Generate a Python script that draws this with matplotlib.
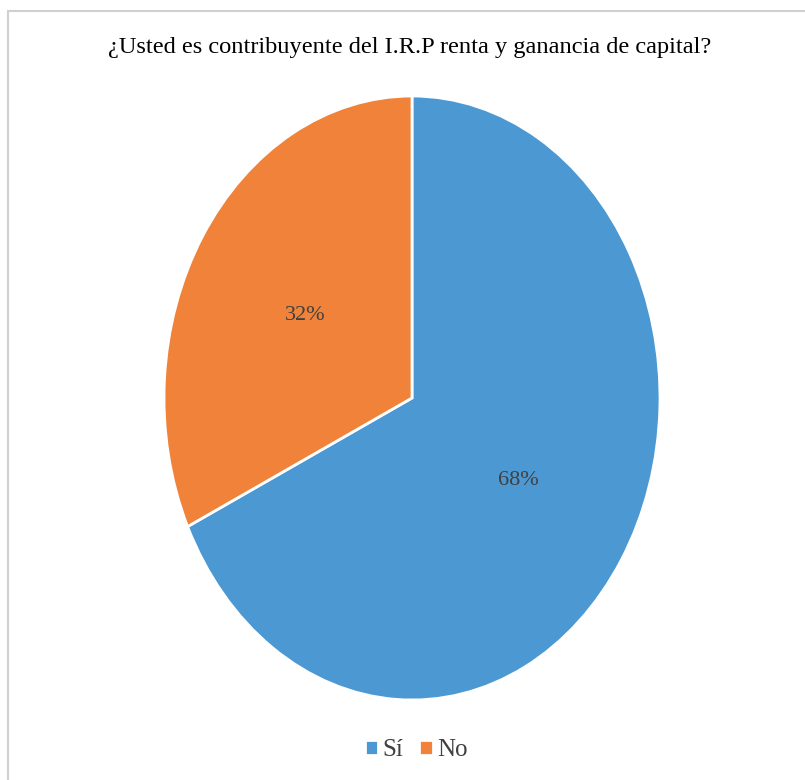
import matplotlib
matplotlib.use("Agg")
from matplotlib import pyplot as plt
from matplotlib.patches import Rectangle

# data
categories = ["Sí", "No"]
shares = [68, 32]
colors = ["#4B98D3", "#F0823A"]
title = "¿Usted es contribuyente del I.R.P renta y ganancia de capital?"

plt.rcParams["font.family"] = ["Liberation Serif", "DejaVu Serif"]

fig = plt.figure(figsize=(8.05, 7.80), dpi=100)

# border of the chart area (only top/left visible in the reference)
fig.patches.append(Rectangle((8 / 805, -0.05), 1.2, (780 - 11.5) / 780 + 0.05,
                             transform=fig.transFigure, fill=False,
                             edgecolor="#D0D0D0", linewidth=1.5))

ax = fig.add_axes([164 / 805, 80 / 780, 496 / 805, 604 / 780])
wedges, texts, autotexts = ax.pie(
    shares, colors=colors, startangle=90, counterclock=False,
    autopct="%1.0f%%", pctdistance=0.51,
    wedgeprops=dict(edgecolor="white", linewidth=2),
    textprops=dict(color="#404040", fontsize=16))
ax.set_aspect("auto")
ax.set_xlim(-1, 1)
ax.set_ylim(-1, 1)
ax.axis("off")

fig.text(410 / 805, 1 - 48 / 780, title, ha="center", va="center",
         fontsize=17.6, color="black")

fig.legend(wedges, categories, loc="center", bbox_to_anchor=(416 / 805, 1 - 750 / 780),
           ncol=2, frameon=False, fontsize=18, handlelength=0.55, handleheight=0.55,
           handletextpad=0.15, columnspacing=0.65, labelcolor="#404040")

fig.savefig("out.png", dpi=100)
